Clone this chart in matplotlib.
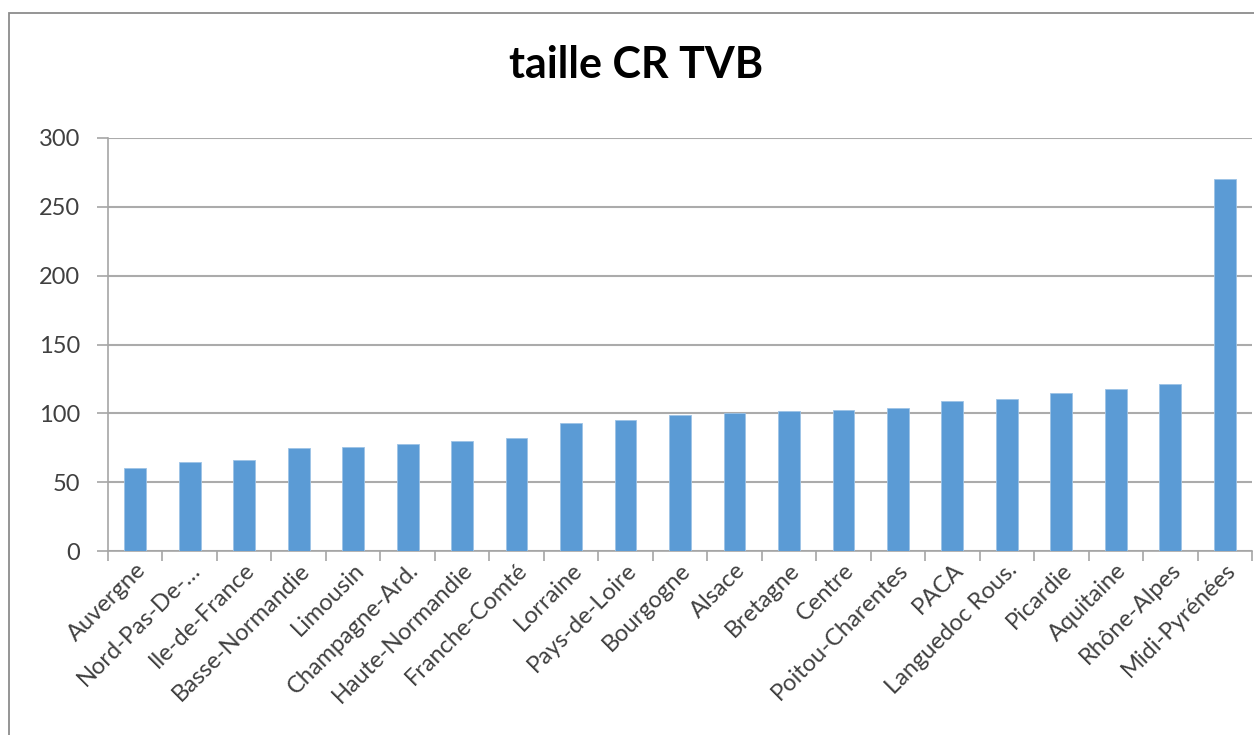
import matplotlib
matplotlib.use("Agg")
import matplotlib.pyplot as plt
from matplotlib.patches import Rectangle
from matplotlib.transforms import ScaledTranslation

regions = ["Auvergne", "Nord-Pas-De-…", "Ile-de-France", "Basse-Normandie", "Limousin",
           "Champagne-Ard.", "Haute-Normandie", "Franche-Comté", "Lorraine", "Pays-de-Loire",
           "Bourgogne", "Alsace", "Bretagne", "Centre", "Poitou-Charentes", "PACA",
           "Languedoc Rous.", "Picardie", "Aquitaine", "Rhône-Alpes", "Midi-Pyrénées"]
values = [60, 65, 66, 74.5, 75.5, 78, 80, 82, 93, 95, 98.5, 100, 101.5, 102.5, 104,
          109, 110.5, 114.5, 117.5, 121.5, 270.5]
yticks = [0, 50, 100, 150, 200, 250, 300]
title = "taille CR TVB"

plt.rcParams['font.family'] = ['Lato', 'DejaVu Sans']

fig = plt.figure(figsize=(12.54, 7.35), dpi=100)
ax = fig.add_axes([108/1254, 1-551/735, (1252-108)/1254, (551-138)/735])

x = list(range(len(regions)))
ax.bar(x, values, width=0.4, color="#5B9BD5", edgecolor="#9DC3E6", linewidth=0.6, zorder=3)
ax.set_xlim(-0.5, len(regions) - 0.5)
ax.set_ylim(0, 300)
ax.set_yticks(yticks)
ax.set_yticklabels([str(v) for v in yticks], fontsize=17, color="#404040")
ax.set_xticks(x)
ax.set_xticklabels(regions, rotation=45, ha="right", rotation_mode="anchor",
                   fontsize=17, color="#404040")
offset = ScaledTranslation(6/72, 0, fig.dpi_scale_trans)
for lbl in ax.get_xticklabels():
    lbl.set_transform(lbl.get_transform() + offset)
ax.tick_params(axis="x", length=0, pad=6)
ax.set_xticks([i - 0.5 for i in range(len(regions) + 1)], minor=True)
ax.tick_params(axis="x", which="minor", length=7, color="#A6A6A6", width=1.2)
ax.tick_params(axis="y", length=8, color="#A6A6A6", width=1.2, pad=12)
ax.yaxis.grid(True, color="#ABABAB", linewidth=1.5, zorder=0)
for s in ["top", "right"]:
    ax.spines[s].set_visible(False)
for s in ["left", "bottom"]:
    ax.spines[s].set_color("#A6A6A6")
    ax.spines[s].set_linewidth(1.2)

fig.text(636/1254, 1-65/735, title, ha="center", va="center", fontsize=31,
         fontweight="bold", color="black")

fig.patches.append(Rectangle((9/1254, -0.5), 1.5, 0.5 + 1 - 13/735, transform=fig.transFigure,
                             fill=False, edgecolor="#8C8C8C", linewidth=1.3))

fig.savefig("out.png", dpi=100)
